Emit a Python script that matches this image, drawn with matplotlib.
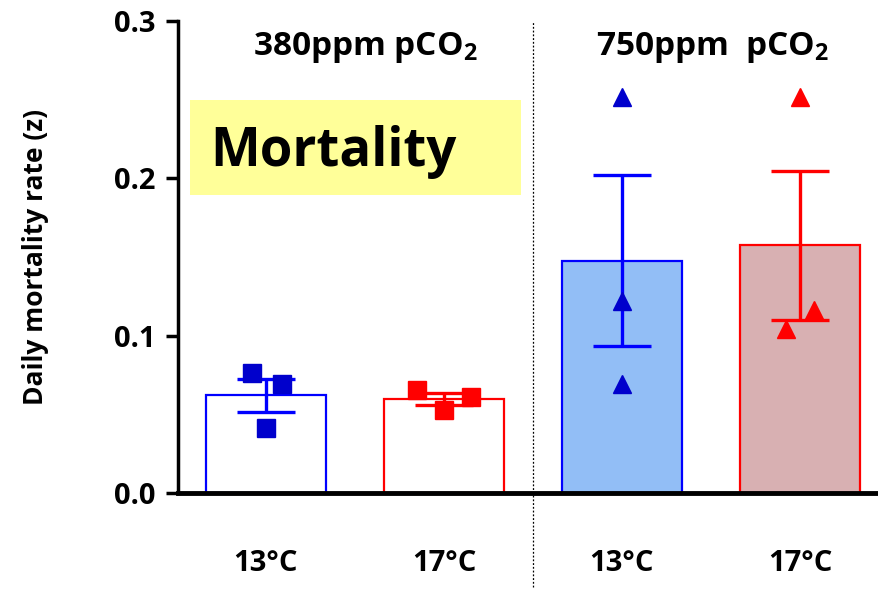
import numpy as np
import matplotlib
matplotlib.use("Agg")
import matplotlib.pyplot as plt
from matplotlib.patches import Rectangle

plt.rcParams["font.family"] = ["Open Sans", "DejaVu Sans"]
plt.rcParams["font.weight"] = "bold"
plt.rcParams["axes.labelweight"] = "bold"
plt.rcParams["mathtext.default"] = "regular"

# Daily mortality rate per replicate tank
groups = ["380_13", "380_17", "750_13", "750_17"]
temp_labels = ["13\u00b0C", "17\u00b0C", "13\u00b0C", "17\u00b0C"]
rep_380_13 = [0.076, 0.069, 0.041]
rep_380_17 = [0.0655, 0.061, 0.053]
rep_750_13 = [0.252, 0.122, 0.069]
rep_750_17 = [0.252, 0.116, 0.104]
# small horizontal offsets so overlapping replicates stay visible
jitter = [[-0.08, 0.09, 0.0], [-0.15, 0.15, 0.0], [0.0, 0.0, 0.0], [0.0, 0.08, -0.08]]

reps = [rep_380_13, rep_380_17, rep_750_13, rep_750_17]
means = [np.mean(r) for r in reps]
sems = [np.std(r, ddof=1) / np.sqrt(len(r)) for r in reps]

edge_colors = ["#0000FF", "#FF0000", "#0000FF", "#FF0000"]
fill_colors = ["white", "white", "#92BEF6", "#D8B0B2"]
marker_colors = ["#0000CC", "#FF0000", "#0000CC", "#FF0000"]
markers = ["s", "s", "^", "^"]

fig = plt.figure(figsize=(8.79, 5.90), dpi=100)
ax = fig.add_axes([0.2025, 0.1644, 0.7975, 0.8000])

x = np.arange(len(groups))
ax.bar(x, means, width=0.674, color=fill_colors, edgecolor=edge_colors, linewidth=1.6, zorder=2)

for i in range(len(groups)):
    ax.errorbar(x[i], means[i], yerr=sems[i], color=edge_colors[i], capsize=21,
                elinewidth=2.4, capthick=2.4, zorder=3)
    ax.plot(x[i] + np.array(jitter[i]), reps[i], linestyle="none", marker=markers[i],
            markersize=13, color=marker_colors[i], zorder=4)

ax.axvline(1.5, ymin=-0.2, ymax=1.0, color="black", linestyle=(0, (1.5, 1.5)),
           linewidth=0.9, clip_on=False, zorder=1)

ax.set_xlim(-0.494, 3.444)
ax.set_ylim(0, 0.3)
ax.set_yticks([0.0, 0.1, 0.2, 0.3])
ax.set_yticklabels(["0.0", "0.1", "0.2", "0.3"])
ax.set_xticks(x)
ax.set_xticklabels(temp_labels)
ax.tick_params(axis="y", length=9, width=2.5, labelsize=21, pad=7)
ax.tick_params(axis="x", length=0, labelsize=21, pad=40)

ax.spines["top"].set_visible(False)
ax.spines["right"].set_visible(False)
ax.spines["left"].set_linewidth(2.5)
ax.spines["bottom"].set_linewidth(3.5)

ax.set_ylabel("Daily mortality rate (z)", fontsize=19, labelpad=47)

ax.text(0.56, 0.283, "380ppm pCO$_2$", ha="center", va="center", fontsize=24)
ax.text(2.51, 0.283, "750ppm  pCO$_2$", ha="center", va="center", fontsize=24)

# highlighted panel title
ax.add_patch(Rectangle((0.017, 0.631), 0.472, 0.202, transform=ax.transAxes,
                       facecolor="#FFFF99", edgecolor="none", zorder=1))
ax.text(0.046, 0.722, "Mortality", transform=ax.transAxes, ha="left", va="center",
        fontsize=38, zorder=2)

fig.savefig("out.png", dpi=100)
